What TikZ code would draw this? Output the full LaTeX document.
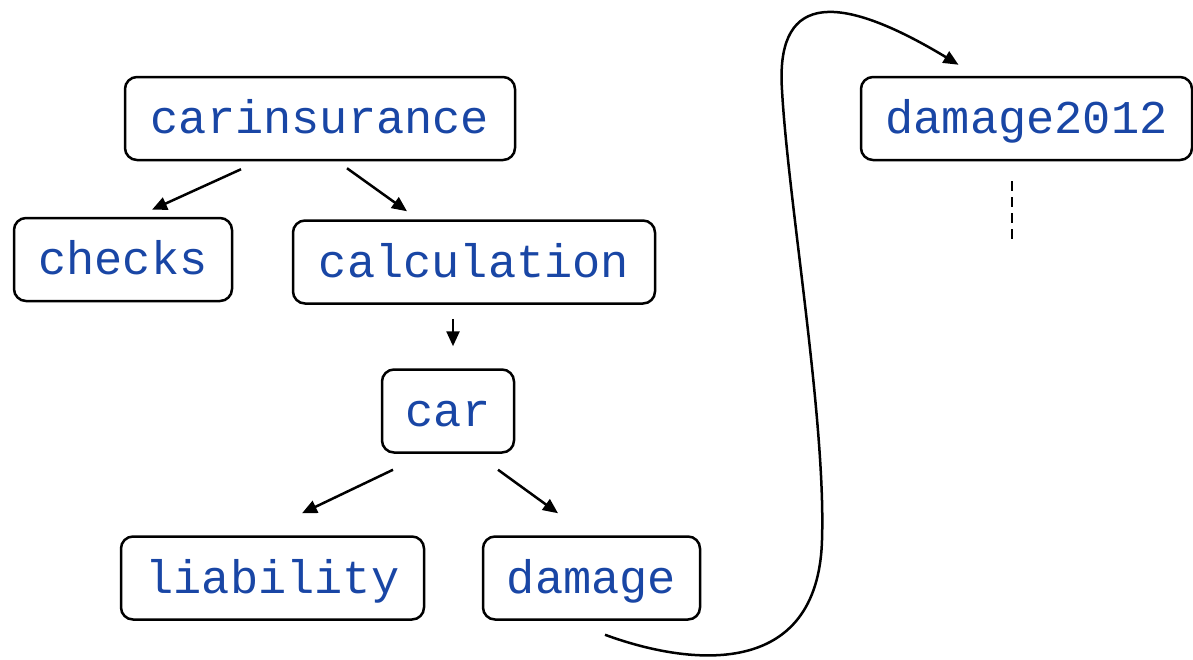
\documentclass[tikz,border=0pt]{standalone}
\usepackage{fontspec}
\newfontfamily\codefont{Liberation Mono}
\usetikzlibrary{arrows.meta}
\definecolor{codeblue}{RGB}{25,70,165}
\tikzset{
  box/.style={draw=black, line width=2.5pt, rounded corners=12pt, inner sep=0pt,
    minimum height=83pt, text height=30pt, text depth=0pt,
    font=\codefont\fontsize{47}{50}\selectfont, text=codeblue},
  link/.style={line width=2.5pt, -{Triangle[length=15pt,width=13pt]}},
}
\begin{document}
\begin{tikzpicture}[x=1pt,y=-1pt]
\useasboundingbox (0,0) rectangle (1193,659);
\node[box, minimum width=390pt] (carins) at (320,118.5) {carinsurance};
\node[box, minimum width=218pt] (checks) at (123,259.5) {checks};
\node[box, minimum width=362pt] (calc) at (474,262) {calculation};
\node[box, minimum width=132pt] (car) at (448,411) {car};
\node[box, minimum width=303pt] (liab) at (272.5,578) {liability};
\node[box, minimum width=217pt] (damage) at (591.5,578) {damage};
\node[box, minimum width=331pt] (dmg12) at (1026.5,118.5) {damage2012};

\draw[link] ([xshift=-79pt,yshift=-8pt]carins.south) -- ([xshift=29pt,yshift=7pt]checks.north);
\draw[link] ([xshift=27pt,yshift=-7pt]carins.south) -- ([xshift=-67pt,yshift=8pt]calc.north);
\draw[link] ([xshift=-21pt,yshift=-14pt]calc.south) -- ([xshift=5pt,yshift=22pt]car.north);
\draw[link] ([xshift=-55pt,yshift=-16pt]car.south) -- ([xshift=29.5pt,yshift=22pt]liab.north);
\draw[link] ([xshift=50pt,yshift=-16pt]car.south) -- ([xshift=-33.5pt,yshift=22pt]damage.north);

\coordinate (cstart) at ([xshift=13.5pt,yshift=-14pt]damage.south);
\coordinate (cend) at ([xshift=-68pt,yshift=11pt]dmg12.north);
\draw[link] (cstart) .. controls (690,666) and (818,680) .. (822,540)
  .. controls (826,420) and (788,200) .. (782,90)
  .. controls (776,0) and (828,-14) .. (cend);

\coordinate (dtop) at ([xshift=-14.5pt,yshift=-20pt]dmg12.south);
\coordinate (dbot) at ([xshift=-14.5pt,yshift=-80pt]dmg12.south);
\draw[line width=2.5pt, dash pattern=on 10pt off 6pt] (dtop) -- (dbot);
\end{tikzpicture}
\end{document}
